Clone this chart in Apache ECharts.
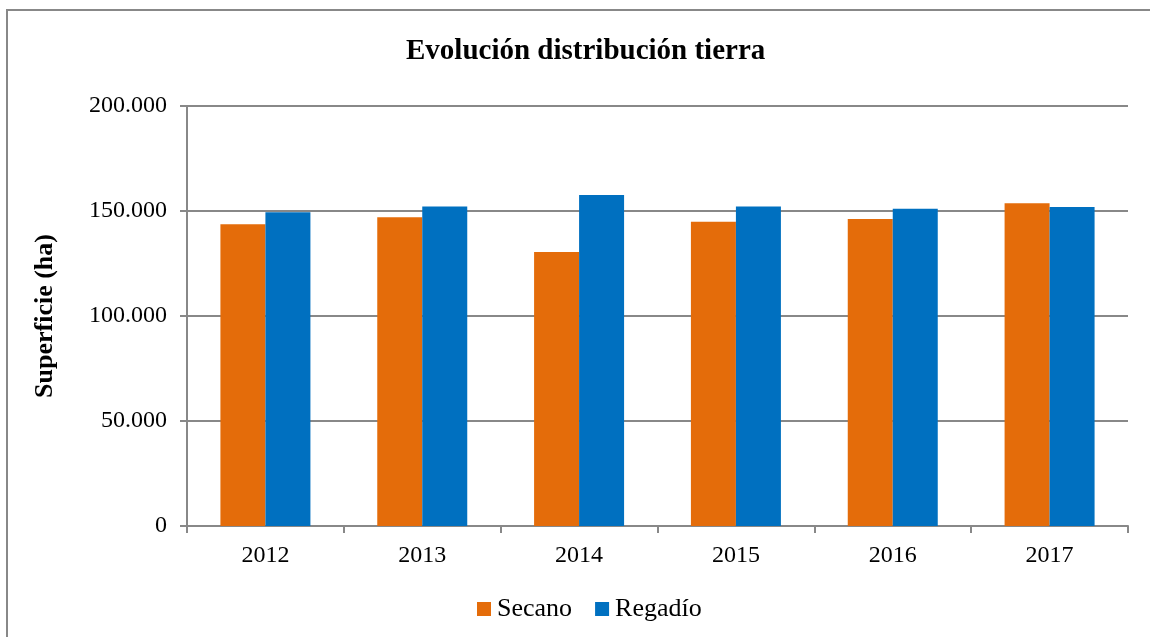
<!DOCTYPE html>
<html>
<head>
<meta charset="utf-8">
<script src="https://cdn.jsdelivr.net/npm/echarts@6/dist/echarts.min.js"></script>
<style>
html, body { margin: 0; padding: 0; background: #fff; }
#myChart { width: 1150px; height: 637px; }
</style>
</head>
<body>
<div id="myChart"></div>
<script>
// datos
const years = ['2012', '2013', '2014', '2015', '2016', '2017']
const secano = [143700, 147000, 130500, 144900, 146200, 153700]
const regadio = [149400, 152200, 157600, 152200, 151100, 151900]
const yTicks = [0, 50000, 100000, 150000, 200000]

const serif = '"Liberation Serif", "Times New Roman", serif'
const gray = '#888888'

function fmt(v) {
  return String(v).replace(/\B(?=(\d{3})+(?!\d))/g, '.')
}

let myChart = echarts.init(document.getElementById('myChart'))
myChart.setOption({
  animation: false,
  textStyle: { fontFamily: serif },
  graphic: [{
    type: 'rect',
    shape: { x: 7, y: 10, width: 1200, height: 700 },
    style: { fill: 'none', stroke: gray, lineWidth: 2 },
    silent: true,
    z: -1
  }],
  title: {
    text: 'Evolución distribución tierra',
    left: 401,
    top: 32,
    textStyle: { fontFamily: serif, fontWeight: 'bold', fontSize: 29, color: '#000' }
  },
  legend: {
    data: ['Secano', 'Regadío'],
    left: 472,
    top: 591,
    itemWidth: 14,
    itemHeight: 14,
    itemGap: 23,
    icon: 'rect',
    textStyle: { fontFamily: serif, fontSize: 26, color: '#000', padding: [0, 0, 0, 1] }
  },
  grid: { left: 187, right: 22, top: 106, bottom: 111 },
  xAxis: {
    type: 'category',
    data: years,
    axisLine: { lineStyle: { color: gray, width: 2 } },
    axisTick: { show: true, length: 7, lineStyle: { color: gray, width: 2 } },
    axisLabel: { fontFamily: serif, fontSize: 24, color: '#000', margin: 18 }
  },
  yAxis: {
    type: 'value',
    min: 0,
    max: yTicks[yTicks.length - 1],
    interval: 50000,
    name: 'Superficie (ha)',
    nameLocation: 'middle',
    nameGap: 129,
    nameTextStyle: { fontFamily: serif, fontWeight: 'bold', fontSize: 26, color: '#000' },
    axisLine: { show: true, lineStyle: { color: gray, width: 2 } },
    axisTick: { show: true, length: 7, lineStyle: { color: gray, width: 2 } },
    splitLine: { lineStyle: { color: gray, width: 2 } },
    axisLabel: { fontFamily: serif, fontSize: 24, color: '#000', margin: 20, formatter: fmt }
  },
  series: [
    {
      name: 'Secano',
      type: 'bar',
      data: secano,
      barWidth: 45,
      barGap: '0%',
      itemStyle: { color: '#E46C0A' }
    },
    {
      name: 'Regadío',
      type: 'bar',
      data: regadio,
      barWidth: 45,
      barGap: '0%',
      itemStyle: { color: '#0070C0' }
    }
  ]
})
</script>
</body>
</html>
